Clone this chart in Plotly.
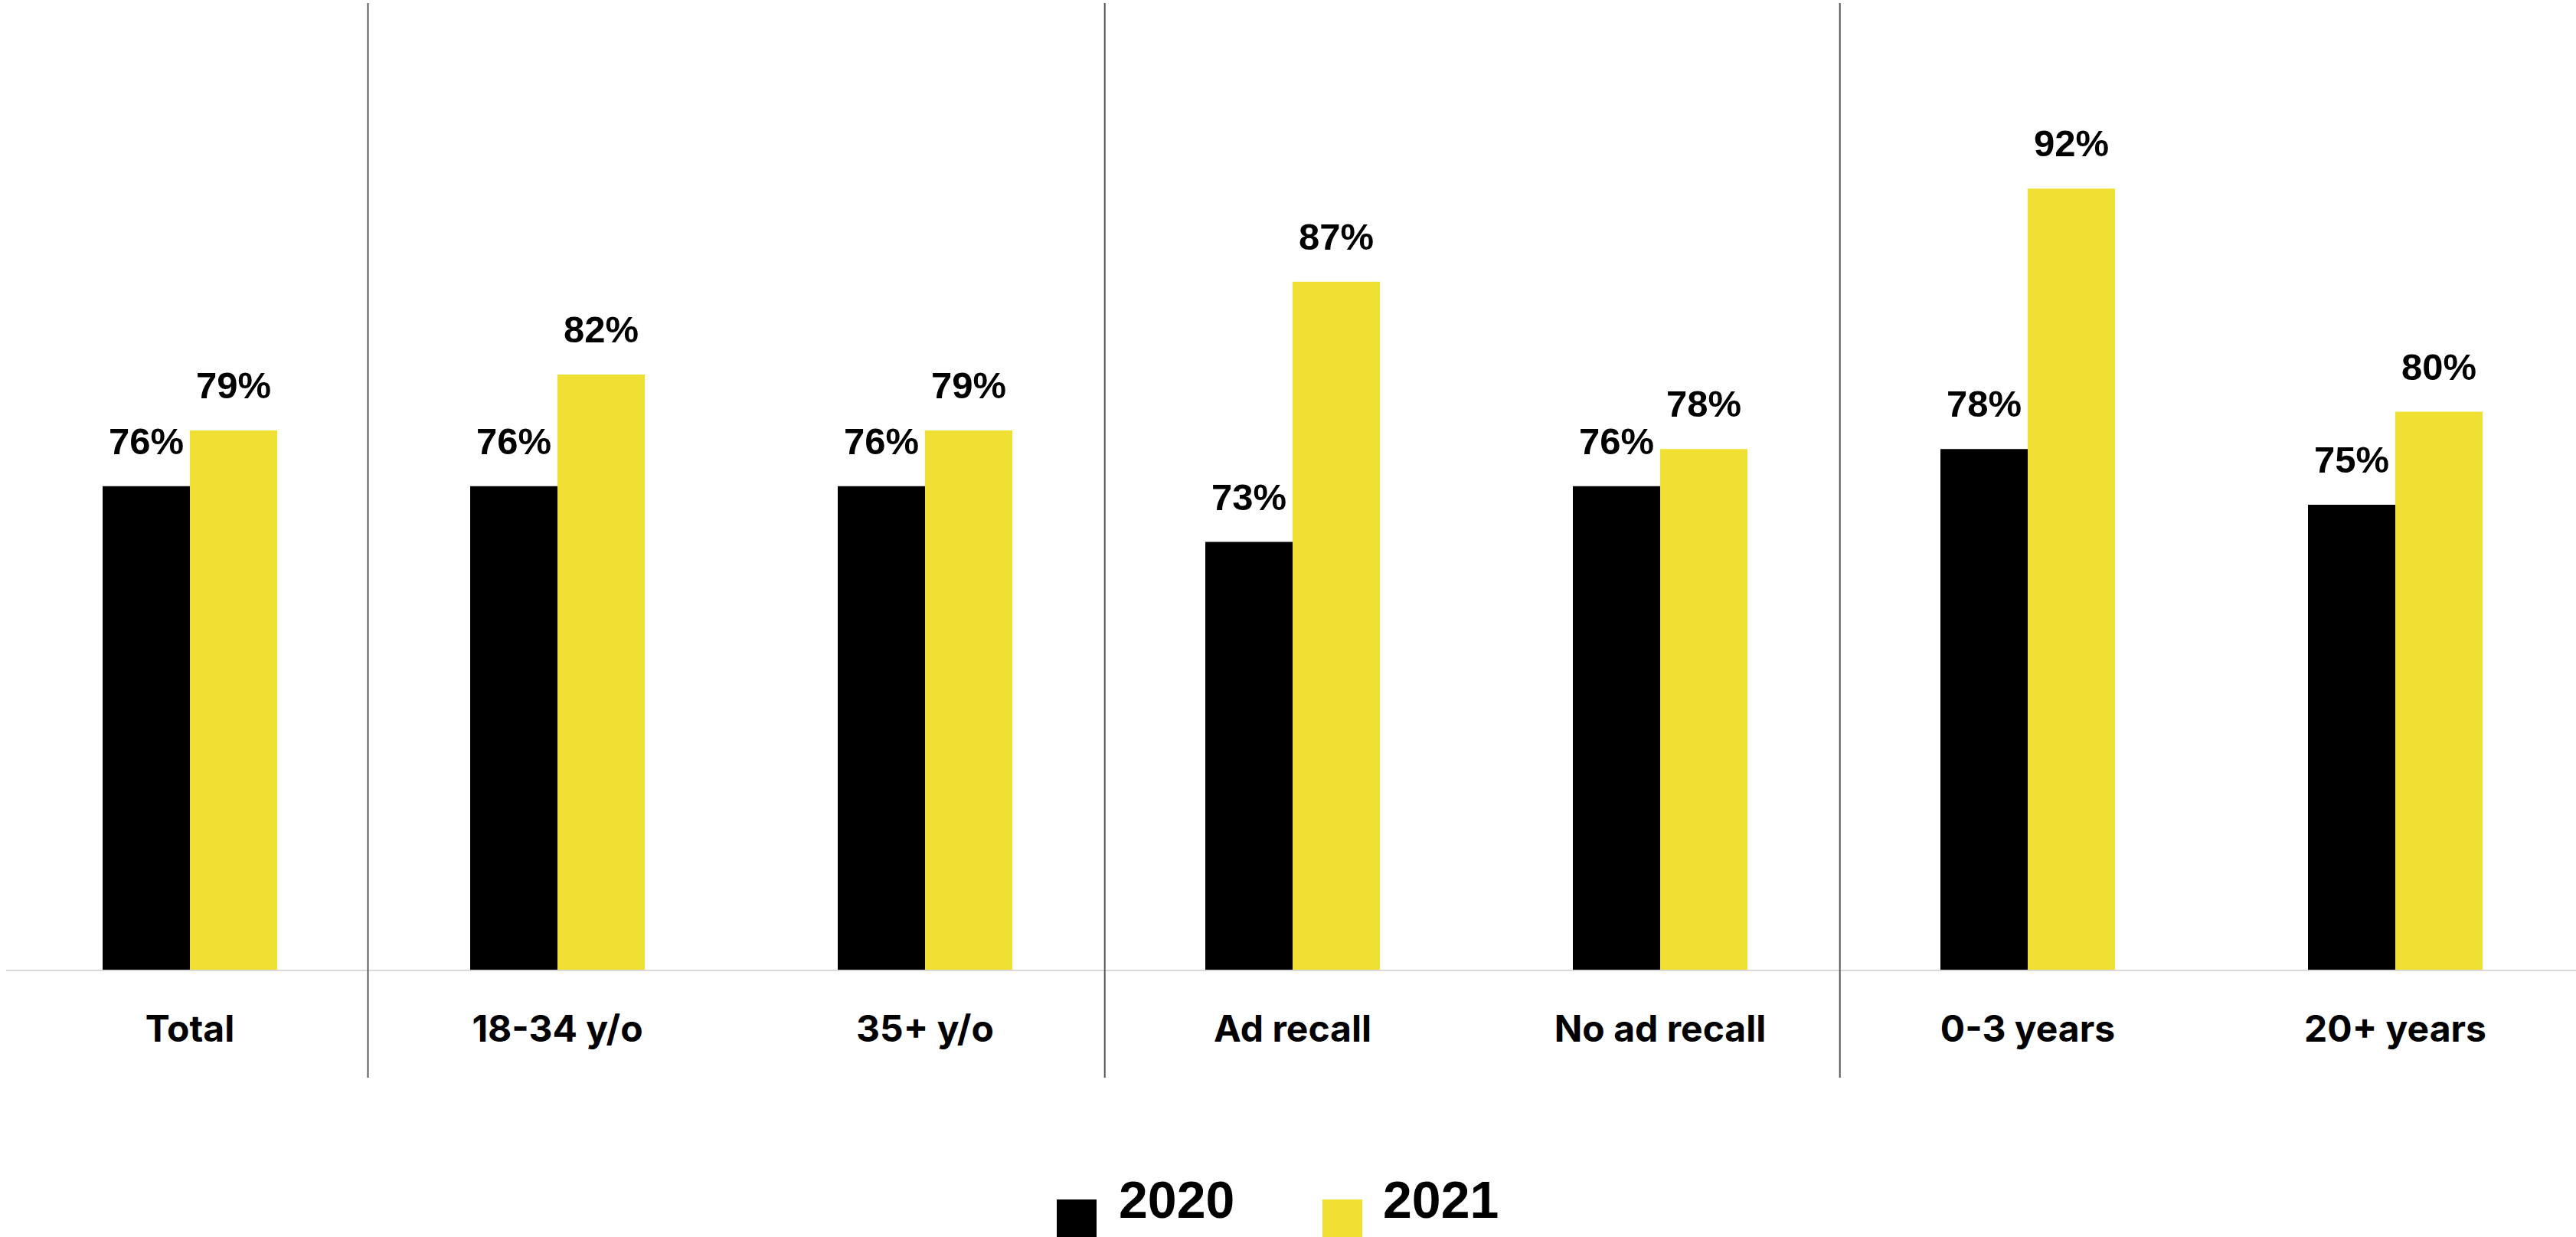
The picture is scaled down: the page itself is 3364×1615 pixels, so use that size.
import plotly.graph_objects as go

# Survey results by segment, 2020 vs 2021 (percent)
categories = ["Total", "18-34 y/o", "35+ y/o", "Ad recall", "No ad recall", "0-3 years", "20+ years"]
values_2020 = [76, 76, 76, 73, 76, 78, 75]
values_2021 = [79, 82, 79, 87, 78, 92, 80]
series_names = ["2020", "2021"]
series_colors = ["#000000", "#F0E034"]

W, H = 3364, 1615
L, R, T, B = 8, 0, 52, 349
plot_w = W - L - R
plot_h = H - T - B
cat_px = 480  # width of one category slot in pixels


def px_to_paper_x(px):
    return (px - L) / plot_w


def px_to_paper_y(py):
    return (H - B - py) / plot_h


fig = go.Figure()
series_values = [values_2020, values_2021]
for name, vals, col in zip(series_names, series_values, series_colors):
    fig.add_trace(go.Bar(
        x=categories, y=vals, name=name,
        marker=dict(color=col, line=dict(width=0)),
        showlegend=False,
    ))

# Percentage labels above each bar
label_font = dict(family="Liberation Sans, Arial", size=49, color="#000000", weight=700)
for k, vals in enumerate(series_values):
    offset = -57 if k == 0 else 57
    for c, v in zip(categories, vals):
        fig.add_annotation(
            x=c, y=v, text=f"{v}%", xref="x", yref="y",
            xshift=offset, yshift=30, yanchor="bottom", xanchor="center",
            showarrow=False, font=label_font,
        )

# Vertical separators between segment groups
for xpos in [0.4844, 2.489, 4.489]:
    fig.add_shape(
        type="line", xref="x", yref="paper",
        x0=xpos, x1=xpos, y0=px_to_paper_y(1407), y1=px_to_paper_y(4),
        line=dict(color="#555555", width=2),
    )

# Legend drawn as squares with text
legend_items = [(1380, 1459), (1727, 1804)]
for (sq_x, txt_x), name, col in zip(legend_items, series_names, series_colors):
    fig.add_shape(
        type="rect", xref="paper", yref="paper",
        x0=px_to_paper_x(sq_x), x1=px_to_paper_x(sq_x + 52),
        y0=px_to_paper_y(1630), y1=px_to_paper_y(1566),
        fillcolor=col, line=dict(width=0),
    )
    fig.add_annotation(
        x=px_to_paper_x(txt_x), y=px_to_paper_y(1566), xref="paper", yref="paper",
        text=name, showarrow=False, xanchor="left", yanchor="middle",
        font=dict(family="Liberation Sans, Arial", size=68, color="#000000", weight=700),
    )

fig.update_layout(
    width=W, height=H,
    margin=dict(l=L, r=R, t=T, b=B, pad=0),
    paper_bgcolor="#ffffff", plot_bgcolor="#ffffff",
    barmode="group", bargap=0.525, bargroupgap=0,
    xaxis=dict(
        type="category",
        range=[-0.5, -0.5 + plot_w / cat_px],
        showline=True, linecolor="#d9d9d9", linewidth=2,
        showgrid=False, zeroline=False, ticks="",
        ticklabelstandoff=34,
        tickfont=dict(family="Inter, Open Sans", size=48, color="#000000", weight=700),
    ),
    yaxis=dict(
        range=[50, 100], visible=False, showgrid=False, zeroline=False,
    ),
)

fig.write_html("out.html")
